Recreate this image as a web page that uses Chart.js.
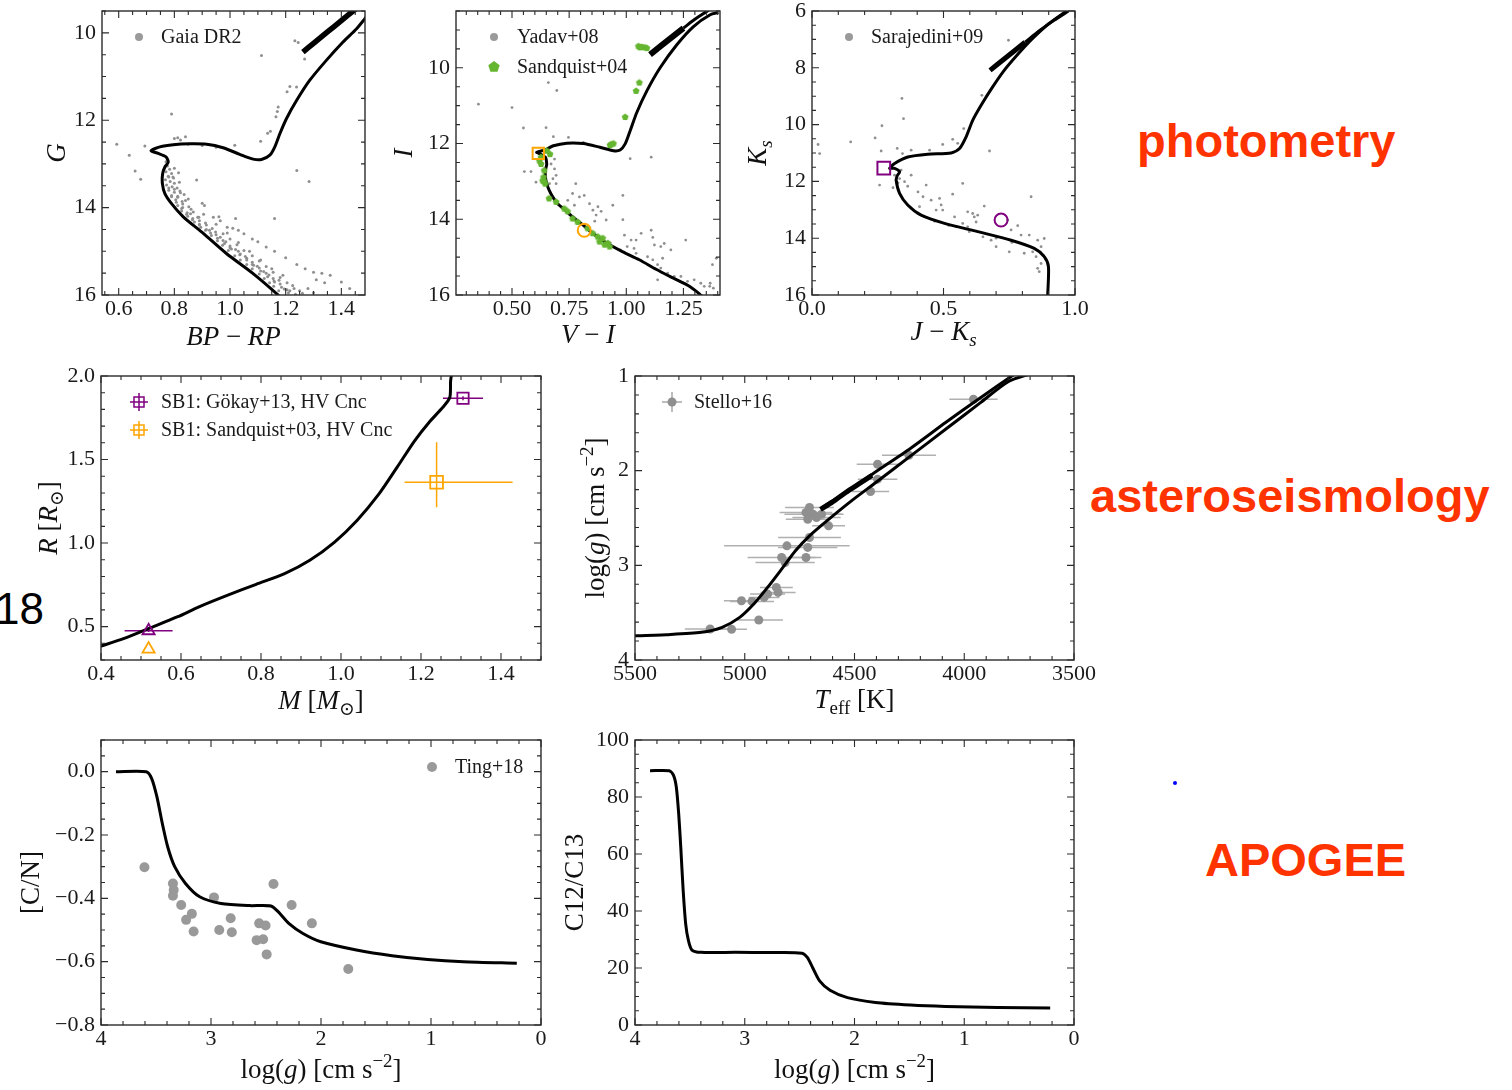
<!DOCTYPE html>
<html>
<head>
<meta charset="utf-8">
<script src="https://cdn.jsdelivr.net/npm/chart.js@4.4.1/dist/chart.umd.min.js"></script>
<style>
  body { margin: 0; background: #fff; width: 1512px; height: 1090px; overflow: hidden; position: relative; }
  canvas { position: absolute; }
  .tag { position: absolute; font: bold 47px "Liberation Sans", Arial, sans-serif; color: #ff3300; line-height: 47px; white-space: nowrap; }
  .num { position: absolute; font: 44px "Liberation Sans", Arial, sans-serif; color: #000; line-height: 44px; }
  .dot { position: absolute; width: 4px; height: 4px; border-radius: 50%; background: #0000ff; }
</style>
</head>
<body>
<div class="tag" style="left:1137px;top:117px">photometry</div>
<div class="tag" style="left:1090px;top:472px">asteroseismology</div>
<div class="tag" style="left:1205px;top:836px">APOGEE</div>
<div class="num" style="left:-5px;top:587px">18</div>
<div class="dot" style="left:1173px;top:781px"></div>
<script>
// ---- Gaia DR2 CMD ----
var gaiaIsoBp = [1.18,1.173,1.083,0.987,0.904,0.832,0.790,0.766,0.757,0.758,0.766,0.778,0.770,0.742,0.716,0.748,0.796,0.856,0.916,0.975,1.035,1.083,1.113,1.143,1.161,1.179,1.203,1.239,1.286,1.346,1.406,1.454,1.484,1.50];
var gaiaIsoG  = [16.06,16.00,15.51,15.05,14.59,14.21,13.91,13.68,13.45,13.22,13.07,12.96,12.84,12.76,12.70,12.61,12.56,12.54,12.55,12.63,12.78,12.89,12.90,12.80,12.61,12.31,11.96,11.55,11.09,10.63,10.21,9.91,9.68,9.55];
var gaiaAgbBp = [1.262,1.300,1.350,1.400,1.450];
var gaiaAgbG  = [10.44,10.24,9.98,9.72,9.46];
var gaiaBp = [
  0.775,0.783,0.770,0.790,0.778,0.795,0.768,0.785,0.800,0.772,
  0.792,0.810,0.780,0.800,0.820,0.790,0.812,0.835,0.805,0.828,
  0.850,0.812,0.830,0.852,0.826,0.846,0.868,0.848,0.866,0.888,
  0.872,0.890,0.912,0.895,0.915,0.936,0.930,0.950,0.975,0.955,
  0.975,1.000,0.980,1.000,1.025,1.005,1.030,1.050,1.035,1.055,
  1.080,1.060,1.080,1.105,1.085,1.105,1.130,1.110,1.130,1.155,
  1.135,1.155,1.180,1.160,1.180,1.205,1.185,1.205,1.230,1.210,
  1.235,1.260,
  0.780,0.780,0.790,0.807,0.826,0.844,0.865,0.890,0.912,0.933,
  0.955,0.973,0.994,1.017,1.037,1.060,1.080,1.105,1.123,1.142,
  1.157,1.175,
  0.800,0.815,0.797,0.818,0.800,0.822,0.812,0.840,0.830,0.860,
  0.858,0.884,0.890,0.915,0.926,0.948,0.965,0.985,1.000,1.020,
  1.037,1.060,1.080,1.098,1.121,1.140,1.158,1.176,1.195,1.215,
  1.250,1.225,1.190,1.150,1.110,1.070,1.030,0.990,0.950,0.905,
  0.593,0.638,0.659,0.679,0.694,0.790,0.800,0.812,0.822,0.840,
  0.880,0.900,0.908,0.960,1.020,1.160,1.240,1.284,1.113,1.233,
  1.245,1.268,1.239,1.215,1.205,1.173,1.170,1.165,1.145,1.135,
  1.110,1.017,0.760,0.770,0.850,0.900,0.950,
  0.940,0.965,0.990,1.010,1.030,1.050,1.080,1.100,1.130,1.160,
  1.200,1.240,1.270,1.300,1.330,1.360,1.310,1.340,1.400,1.430,
  1.280,1.300
];
var gaiaG = [
  13.05,13.12,13.18,13.22,13.28,13.30,13.36,13.40,13.44,13.48,
  13.52,13.55,13.60,13.65,13.62,13.72,13.76,13.70,13.82,13.86,
  13.80,13.95,14.00,13.98,14.08,14.12,14.10,14.20,14.25,14.22,
  14.33,14.38,14.35,14.45,14.50,14.48,14.58,14.62,14.60,14.70,
  14.75,14.72,14.82,14.88,14.85,14.95,15.00,14.98,15.08,15.12,
  15.10,15.20,15.25,15.22,15.32,15.38,15.35,15.45,15.50,15.48,
  15.58,15.62,15.60,15.70,15.75,15.72,15.82,15.88,15.85,15.95,
  15.98,15.96,
  13.30,13.55,13.75,13.88,14.02,14.15,14.28,14.40,14.52,14.64,
  14.76,14.86,14.98,15.10,15.20,15.30,15.40,15.52,15.62,15.72,
  15.80,15.90,
  13.10,13.20,13.32,13.42,13.58,13.66,13.74,13.84,13.92,14.04,
  14.14,14.22,14.30,14.40,14.52,14.56,14.68,14.78,14.92,14.96,
  15.06,15.16,15.30,15.34,15.46,15.54,15.68,15.66,15.86,15.90,
  15.90,15.78,15.55,15.40,15.20,15.00,14.80,14.58,14.38,14.15,
  12.55,12.80,13.16,13.35,12.59,11.86,12.42,12.40,12.45,12.38,
  13.37,13.90,13.95,14.21,14.25,14.25,13.15,13.40,10.52,10.18,
  10.22,10.60,11.24,11.23,11.35,11.70,11.80,11.92,12.25,12.30,
  12.48,12.57,12.80,12.95,12.55,12.58,12.62,
  14.22,14.30,14.45,14.47,14.52,14.60,14.72,14.78,14.90,15.00,
  15.15,15.30,15.40,15.48,15.50,15.55,15.65,15.72,15.70,15.85,
  15.85,15.95
];

// ---- V-I CMD ----
var viIso = [1.330,1.320,1.276,1.204,1.130,1.057,0.985,0.912,0.853,0.810,0.766,0.729,0.700,0.678,0.663,0.652,0.646,0.646,0.652,0.646,0.625,0.608,0.644,0.681,0.739,0.812,0.885,0.944,0.973,0.995,1.017,1.046,1.090,1.148,1.221,1.294,1.367,1.403];
var iIso  = [16.03,15.97,15.77,15.55,15.32,15.07,14.86,14.62,14.37,14.15,13.94,13.74,13.59,13.41,13.24,13.06,12.89,12.71,12.54,12.36,12.28,12.23,12.17,12.06,11.99,12.00,12.10,12.19,12.17,12.01,11.66,11.18,10.61,10.00,9.39,8.91,8.60,8.54];
var viAgb = [1.104,1.150,1.200,1.250];
var iAgb  = [9.65,9.43,9.19,8.95];
var viAgbTop = [1.250,1.300,1.360];
var iAgbTop  = [8.95,8.72,8.48];
var yadavVI = [
  0.353,0.500,0.659,0.696,0.550,0.649,0.681,0.747,0.812,1.109,1.017,
  0.554,0.583,0.605,0.671,0.686,0.693,0.679,0.664,0.693,0.686,
  0.779,0.765,0.795,0.816,0.744,0.773,0.839,0.854,0.876,0.890,
  0.868,0.912,0.862,0.941,0.985,0.985,0.992,1.021,1.043,1.065,
  1.109,1.116,1.123,1.151,1.166,1.195,1.260,1.034,1.004,1.043,
  1.093,1.116,1.137,1.151,1.159,1.181,1.210,1.239,1.268,1.297,
  1.326,1.341,1.377,1.394,1.365,1.137,0.930,0.974,1.381,1.367
];
var yadavI = [
  10.96,11.05,10.39,10.60,11.59,11.58,11.82,11.84,11.97,12.36,12.40,
  12.74,12.74,13.02,12.54,12.67,12.84,12.93,13.06,13.06,12.41,
  13.06,13.32,13.41,13.37,13.50,13.63,13.59,13.76,13.67,13.79,
  13.89,14.02,14.05,13.63,13.37,14.01,14.42,14.55,14.55,14.37,
  14.29,14.48,14.68,14.72,14.64,14.81,14.55,14.77,14.72,14.90,
  14.99,15.07,15.20,15.29,15.03,15.42,15.51,15.51,15.64,15.60,
  15.69,15.77,15.20,15.03,15.77,15.60,14.63,14.81,15.82,15.69
];
var sandVI = [
  1.053,1.068,1.080,1.090,1.060,1.057,1.043,0.995,0.944,0.929,0.935,
  0.627,0.620,0.627,0.641,0.638,0.645,0.662,0.693,0.729,0.743,
  0.765,0.787,0.831,0.853,0.875,0.897,0.919,0.927,0.883,0.905,
  0.652,0.666,0.640,0.634
];
var sandI = [
  9.43,9.45,9.46,9.48,9.46,10.39,10.61,11.30,12.00,12.04,12.02,
  12.36,12.45,12.54,12.71,12.89,13.06,13.45,13.54,13.72,13.79,
  13.98,14.07,14.24,14.37,14.46,14.50,14.63,14.72,14.59,14.67,
  12.19,12.28,13.00,12.98
];
var hvSqVI = [0.615], hvSqI = [12.26];
var hvCircVI = [0.816], hvCircI = [14.29];

// ---- J-Ks CMD ----
var jkIso = [0.896,0.899,0.883,0.845,0.757,0.630,0.504,0.415,0.364,0.333,0.320,0.324,0.333,0.314,0.295,0.314,0.364,0.440,0.529,0.561,0.586,0.611,0.643,0.685,0.730,0.780,0.835,0.900,0.960,0.985];
var ksIso = [16.05,15.00,14.65,14.36,14.07,13.77,13.48,13.19,12.83,12.42,11.96,11.80,11.66,11.54,11.54,11.37,11.14,11.04,11.00,10.84,10.43,9.85,9.32,8.70,8.10,7.55,7.00,6.45,6.05,5.90];
var jkAgb = [0.677,0.720,0.770,0.810];
var ksAgb = [8.09,7.77,7.40,7.10];
var jkAgbTop = [0.810,0.867,0.920,0.975];
var ksAgbTop = [7.10,6.68,6.33,6.00];
var saraJK = [
  0.747,0.646,0.342,0.348,0.023,0.029,0.147,0.240,0.266,0.263,
  0.324,0.344,0.377,0.447,0.497,0.535,0.554,0.577,0.675,0.257,
  0.314,0.333,0.352,0.364,0.327,0.308,0.377,0.339,0.434,0.403,
  0.422,0.409,0.453,0.485,0.491,0.472,0.497,0.535,0.542,0.573,
  0.592,0.611,0.617,0.630,0.624,0.592,0.655,0.573,0.744,0.782,
  0.757,0.833,0.795,0.826,0.858,0.883,0.871,0.839,0.852,0.871,
  0.858,0.864,0.700,0.750,0.807,0.681,0.598,0.548,0.466,0.520,
  0.650,0.700,0.760,0.880,0.890
];
var saraKs = [
  7.03,8.97,9.08,9.79,10.70,11.02,10.61,10.47,10.04,10.93,
  10.84,11.02,10.90,10.90,10.70,10.52,10.66,10.14,10.93,12.13,
  11.78,11.90,12.01,12.17,12.05,12.22,11.78,11.60,12.13,12.37,
  12.54,12.89,12.66,12.60,12.83,13.01,13.01,12.45,13.25,12.07,
  13.07,13.13,13.25,13.19,13.43,13.60,12.87,13.48,13.36,13.56,
  13.71,12.54,13.89,13.89,14.07,14.01,14.30,14.48,14.65,14.89,
  15.06,15.18,14.30,14.48,14.53,14.07,13.77,13.60,13.40,13.55,
  13.95,14.00,14.15,14.60,14.75
];
var hvSqJK = [0.273], hvSqKs = [11.53];
var hvCircJK = [0.719], hvCircKs = [13.36];

// ---- mass-radius ----
var mrMass = [0.38,0.40,0.458,0.520,0.592,0.645,0.717,0.788,0.859,0.922,0.984,1.040,1.095,1.140,1.184,1.220,1.254,1.272,1.274,1.277];
var mrRad  = [0.368,0.383,0.429,0.489,0.559,0.618,0.688,0.753,0.817,0.897,1.006,1.135,1.294,1.453,1.612,1.722,1.811,1.871,1.970,2.02];
var gokayM = [1.305,0.519], gokayR = [1.867,0.475];
var gokayMErr = [0.05,0.06], gokayRErr = [0.012,0.008];
var sandqM = [1.239,0.519], sandqR = [1.364,0.365];
var sandqMLo = [0.08,0], sandqMHi = [0.19,0];
var sandqRLo = [0.15,0], sandqRHi = [0.24,0];

// ---- Teff-logg ----
var rgbTeff = [5560,5500,5357,5198,5103,5023,4959,4896,4832,4769,4705,4626,4514,4403,4244,4085,3926,3800,3690];
var rgbLogg = [3.745,3.743,3.732,3.708,3.655,3.550,3.409,3.233,3.040,2.846,2.688,2.530,2.319,2.125,1.844,1.563,1.281,1.06,0.97];
var agbTeff = [4649,4562,4419,4244,4085,3926,3783,3740];
var agbLogg = [2.389,2.266,2.037,1.763,1.492,1.229,1.0,0.93];
var clumpTeff = [4655,4600,4540,4480,4420];
var clumpLogg = [2.41,2.33,2.23,2.14,2.05];
var stelloTeff = [3958,4252,4395,4395,4427,4705,4721,4689,4673,4713,4650,4618,4705,4808,4713,4832,4816,4721,4856,4848,4896,4967,5015,4912,4936,5158,5060];
var stelloLogg = [1.246,1.837,1.932,2.090,2.220,2.389,2.442,2.460,2.495,2.513,2.460,2.583,2.706,2.794,2.811,2.917,2.970,2.917,3.233,3.286,3.304,3.381,3.374,3.339,3.578,3.673,3.676];
var stelloTeffErr = [110,123,95,90,85,111,120,130,110,100,100,75,143,286,135,155,135,70,75,80,80,100,80,70,110,115,70];
var stelloLoggErr = [0.02,0.02,0.02,0.02,0.02,0.02,0.02,0.02,0.02,0.02,0.02,0.02,0.02,0.02,0.02,0.02,0.02,0.02,0.02,0.02,0.02,0.02,0.02,0.02,0.02,0.02,0.02];

// ---- APOGEE mixing ----
var cnLogg = [3.864,3.589,3.540,3.492,3.443,3.394,3.330,3.232,3.103,2.909,2.650,2.455,2.390,2.293,2.164,2.002,1.678,1.354,1.030,0.706,0.220];
var cnVal  = [0.0,0.0,-0.021,-0.079,-0.163,-0.237,-0.300,-0.353,-0.395,-0.416,-0.423,-0.424,-0.442,-0.479,-0.511,-0.537,-0.563,-0.581,-0.593,-0.600,-0.605];
var tingLogg = [3.605,3.346,3.339,3.346,3.271,3.226,3.174,3.158,2.973,2.925,2.821,2.811,2.585,2.562,2.526,2.504,2.494,2.432,2.267,2.083,1.752];
var tingCN   = [-0.302,-0.353,-0.374,-0.392,-0.421,-0.468,-0.449,-0.505,-0.397,-0.500,-0.463,-0.507,-0.532,-0.479,-0.529,-0.486,-0.577,-0.355,-0.421,-0.479,-0.623];
var ccLogg = [3.863,3.688,3.650,3.624,3.602,3.583,3.561,3.538,3.513,3.481,3.401,3.083,2.764,2.478,2.430,2.382,2.318,2.223,2.064,1.809,1.490,1.172,0.694,0.217];
var ccVal  = [89.2,89.2,87.7,83.6,74.2,62.4,47.2,35.4,29.6,26.3,25.5,25.5,25.4,25.2,23.7,20.2,15.5,12.2,9.6,7.9,7.0,6.5,6.1,6.0];

var SERIF = '"Liberation Serif", "DejaVu Serif", serif';
var GRAY = '#8f8f8f', GREEN = '#64b52f', PURPLE = '#800080', ORANGE = '#ffa500';
var YW = 110, PT = 20, PR = 40, XH = 75;

function pts(xs, ys) { return xs.map(function(v, i) { return {x: v, y: ys[i]}; }); }
function curve(xs, ys, w) {
  return {data: pts(xs, ys), showLine: true, borderColor: '#000', borderWidth: w, pointRadius: 0, tension: 0.25, fill: false};
}
function dots(xs, ys, color, r, style) {
  return {data: pts(xs, ys), showLine: false, pointRadius: r, pointStyle: style || 'circle', backgroundColor: color, borderColor: color, borderWidth: 0};
}
function hollow(xs, ys, color, r, style) {
  return {data: pts(xs, ys), showLine: false, pointRadius: r, pointStyle: style, backgroundColor: 'rgba(0,0,0,0)', borderColor: color, borderWidth: 2};
}
function pentagon(r, color) {
  var c = document.createElement('canvas');
  var s = Math.ceil(2 * r + 2);
  c.width = c.height = s;
  var g = c.getContext('2d');
  g.fillStyle = color;
  g.beginPath();
  for (var k = 0; k < 5; k++) {
    var ang = -Math.PI / 2 + k * 2 * Math.PI / 5;
    g.lineTo(s / 2 + r * Math.cos(ang), s / 2 + r * Math.sin(ang));
  }
  g.closePath();
  g.fill();
  return c;
}
var pentSmall = pentagon(3.6, GREEN), pentBig = pentagon(6, GREEN);

// rich label: italics, subscripts, superscripts, centred on (0,0) baseline
function richText(ctx, parts, size) {
  var items = parts.map(function(pt) {
    var fs = (pt.sub || pt.sup) ? size * 0.7 : size;
    var font = (pt.it ? 'italic ' : '') + fs + 'px ' + SERIF;
    ctx.font = font;
    return {t: pt.t, font: font, w: ctx.measureText(pt.t).width, dy: pt.sub ? size * 0.22 : (pt.sup ? -size * 0.4 : 0)};
  });
  var total = items.reduce(function(s, it) { return s + it.w; }, 0);
  var cx = -total / 2;
  items.forEach(function(it) { ctx.font = it.font; ctx.fillText(it.t, cx, it.dy); cx += it.w; });
}

function drawMarker(ctx, m, x, y) {
  ctx.save();
  if (m.kind === 'dot') {
    ctx.fillStyle = m.color; ctx.beginPath(); ctx.arc(x, y, m.r, 0, 2 * Math.PI); ctx.fill();
  } else if (m.kind === 'pent') {
    ctx.drawImage(pentBig, x - pentBig.width / 2, y - pentBig.height / 2);
  } else if (m.kind === 'sqErr') {
    ctx.strokeStyle = m.color; ctx.lineWidth = 1.5;
    ctx.beginPath(); ctx.moveTo(x - 9, y); ctx.lineTo(x + 9, y); ctx.moveTo(x, y - 9); ctx.lineTo(x, y + 9); ctx.stroke();
    ctx.strokeRect(x - 5, y - 5, 10, 10);
  } else if (m.kind === 'dotErr') {
    ctx.strokeStyle = '#a8a8a8'; ctx.lineWidth = 1.5;
    ctx.beginPath(); ctx.moveTo(x - 10, y); ctx.lineTo(x + 10, y); ctx.moveTo(x, y - 10); ctx.lineTo(x, y + 10); ctx.stroke();
    ctx.fillStyle = GRAY; ctx.beginPath(); ctx.arc(x, y, 4.5, 0, 2 * Math.PI); ctx.fill();
  }
  ctx.restore();
}

function drawTicks(ctx, scale, ax, a, horiz) {
  var lo = Math.min(ax.min, ax.max), hi = Math.max(ax.min, ax.max);
  for (var n = Math.ceil(lo / ax.minor - 1e-6); n * ax.minor <= hi + 1e-9; n++) {
    var v = n * ax.minor;
    var major = ax.major.some(function(m) { return Math.abs(m - v) < ax.minor / 10; });
    var len = major ? 7 : 4;
    var q = scale.getPixelForValue(v);
    ctx.beginPath();
    if (horiz) {
      ctx.moveTo(q, a.bottom); ctx.lineTo(q, a.bottom - len);
      ctx.moveTo(q, a.top); ctx.lineTo(q, a.top + len);
    } else {
      ctx.moveTo(a.left, q); ctx.lineTo(a.left + len, q);
      ctx.moveTo(a.right, q); ctx.lineTo(a.right - len, q);
    }
    ctx.stroke();
  }
}

function panelPlugin(p) {
  return {
    id: 'panelFrame',
    beforeDatasetsDraw: function(chart) {
      if (!p.errors) return;
      var ctx = chart.ctx, a = chart.chartArea, sx = chart.scales.x, sy = chart.scales.y;
      ctx.save();
      ctx.beginPath(); ctx.rect(a.left, a.top, a.width, a.height); ctx.clip();
      p.errors.forEach(function(e) {
        ctx.strokeStyle = e.color; ctx.lineWidth = e.width;
        e.xs.forEach(function(xv, i) {
          var yv = e.ys[i];
          var py = sy.getPixelForValue(yv), px = sx.getPixelForValue(xv);
          ctx.beginPath();
          if (e.xLo[i] || e.xHi[i]) {
            ctx.moveTo(sx.getPixelForValue(xv - e.xLo[i]), py);
            ctx.lineTo(sx.getPixelForValue(xv + e.xHi[i]), py);
          }
          if (e.yLo[i] || e.yHi[i]) {
            ctx.moveTo(px, sy.getPixelForValue(yv - e.yLo[i]));
            ctx.lineTo(px, sy.getPixelForValue(yv + e.yHi[i]));
          }
          ctx.stroke();
        });
      });
      ctx.restore();
    },
    afterDraw: function(chart) {
      var ctx = chart.ctx, a = chart.chartArea;
      ctx.save();
      ctx.strokeStyle = '#2b2b2b'; ctx.lineWidth = 1.4;
      ctx.strokeRect(a.left, a.top, a.width, a.height);
      ctx.lineWidth = 1.1;
      drawTicks(ctx, chart.scales.x, p.x, a, true);
      drawTicks(ctx, chart.scales.y, p.y, a, false);

      ctx.fillStyle = '#111'; ctx.textAlign = 'left'; ctx.textBaseline = 'alphabetic';
      ctx.save();
      ctx.translate((a.left + a.right) / 2, a.bottom + p.xOff);
      richText(ctx, p.xTitle, 27);
      ctx.restore();
      ctx.save();
      ctx.translate(a.left - p.yOff, (a.top + a.bottom) / 2);
      ctx.rotate(-Math.PI / 2);
      richText(ctx, p.yTitle, 27);
      ctx.restore();

      (p.legend || []).forEach(function(item) {
        var mx = (item.right ? a.right : a.left) + item.dx, my = a.top + item.dy;
        drawMarker(ctx, item.marker, mx, my);
        ctx.font = '20px ' + SERIF; ctx.textBaseline = 'middle'; ctx.textAlign = 'left'; ctx.fillStyle = '#1a1a1a';
        ctx.fillText(item.text, mx + item.tx, my + 1);
      });
      ctx.restore();
    }
  };
}

function axisOpts(ax, horiz) {
  return {
    type: 'linear', min: ax.min, max: ax.max, reverse: !!ax.reverse,
    grid: {display: false, drawTicks: false},
    border: {display: false},
    ticks: {
      autoSkip: false, maxRotation: 0, minRotation: 0,
      padding: horiz ? 1 : 6,
      color: '#1a1a1a',
      font: {family: SERIF, size: 22},
      callback: function(v) { return Number(v).toFixed(ax.dec).replace('-', '\u2212'); }
    },
    afterBuildTicks: function(s) { s.ticks = ax.major.map(function(v) { return {value: v}; }); },
    afterFit: function(s) { if (horiz) s.height = XH; else s.width = YW; }
  };
}

function makePanel(p) {
  var L = p.frame[0], T = p.frame[1], R = p.frame[2], B = p.frame[3];
  var W = YW + (R - L) + PR, H = PT + (B - T) + XH;
  var cv = document.createElement('canvas');
  cv.width = W; cv.height = H;
  cv.style.left = (L - YW) + 'px'; cv.style.top = (T - PT) + 'px';
  cv.style.width = W + 'px'; cv.style.height = H + 'px';
  document.body.appendChild(cv);
  new Chart(cv, {
    type: 'scatter',
    data: {datasets: p.datasets},
    options: {
      responsive: false, animation: false, devicePixelRatio: 1, events: [],
      layout: {padding: {left: 0, top: PT, right: PR, bottom: 0}},
      elements: {line: {capBezierPoints: false}},
      plugins: {legend: {display: false}, tooltip: {enabled: false}},
      scales: {x: axisOpts(p.x, true), y: axisOpts(p.y, false)}
    },
    plugins: [panelPlugin(p)]
  });
}

var loggTitle = [{t: 'log('}, {t: 'g', it: 1}, {t: ') [cm s'}, {t: '\u22122', sup: 1}, {t: ']'}];

// G vs BP-RP
makePanel({
  frame: [102, 11, 365, 295],
  x: {min: 0.54, max: 1.485, major: [0.6, 0.8, 1.0, 1.2, 1.4], minor: 0.05, dec: 1},
  y: {min: 9.5, max: 16, reverse: true, major: [10, 12, 14, 16], minor: 0.5, dec: 0},
  xTitle: [{t: 'BP', it: 1}, {t: ' \u2212 '}, {t: 'RP', it: 1}], xOff: 50,
  yTitle: [{t: 'G', it: 1}], yOff: 37,
  legend: [{marker: {kind: 'dot', color: '#9a9a9a', r: 4}, text: 'Gaia DR2', dx: 37, dy: 26, tx: 22}],
  datasets: [curve(gaiaIsoBp, gaiaIsoG, 3), curve(gaiaAgbBp, gaiaAgbG, 5.5), dots(gaiaBp, gaiaG, GRAY, 1.5)]
});

// I vs V-I
makePanel({
  frame: [456, 11, 720, 295],
  x: {min: 0.255, max: 1.41, major: [0.5, 0.75, 1.0, 1.25], minor: 0.05, dec: 2},
  y: {min: 8.5, max: 16, reverse: true, major: [10, 12, 14, 16], minor: 0.5, dec: 0},
  xTitle: [{t: 'V', it: 1}, {t: ' \u2212 '}, {t: 'I', it: 1}], xOff: 48,
  yTitle: [{t: 'I', it: 1}], yOff: 44,
  legend: [
    {marker: {kind: 'dot', color: '#9a9a9a', r: 4}, text: 'Yadav+08', dx: 38, dy: 26, tx: 23},
    {marker: {kind: 'pent'}, text: 'Sandquist+04', dx: 38, dy: 56, tx: 23}
  ],
  datasets: [
    hollow(hvSqVI, hvSqI, ORANGE, 8, 'rect'),
    hollow(hvCircVI, hvCircI, ORANGE, 6.5, 'circle'),
    dots(sandVI, sandI, GREEN, 3.6, pentSmall),
    curve(viIso, iIso, 3), curve(viAgb, iAgb, 6), curve(viAgbTop, iAgbTop, 3),
    dots(yadavVI, yadavI, GRAY, 1.4)
  ]
});

// Ks vs J-Ks
makePanel({
  frame: [812, 11, 1075, 295],
  x: {min: 0, max: 1, major: [0, 0.5, 1.0], minor: 0.1, dec: 1},
  y: {min: 6, max: 16, reverse: true, major: [6, 8, 10, 12, 14, 16], minor: 0.5, dec: 0},
  xTitle: [{t: 'J', it: 1}, {t: ' \u2212 '}, {t: 'K', it: 1}, {t: 's', it: 1, sub: 1}], xOff: 45,
  yTitle: [{t: 'K', it: 1}, {t: 's', it: 1, sub: 1}], yOff: 46,
  legend: [{marker: {kind: 'dot', color: '#9a9a9a', r: 4}, text: 'Sarajedini+09', dx: 37, dy: 26, tx: 22}],
  datasets: [
    hollow(hvSqJK, hvSqKs, PURPLE, 9, 'rect'),
    hollow(hvCircJK, hvCircKs, PURPLE, 6.5, 'circle'),
    curve(jkIso, ksIso, 3), curve(jkAgb, ksAgb, 5), curve(jkAgbTop, ksAgbTop, 3),
    dots(saraJK, saraKs, GRAY, 1.4)
  ]
});

// R vs M
makePanel({
  frame: [101, 376, 541, 660],
  x: {min: 0.4, max: 1.5, major: [0.4, 0.6, 0.8, 1.0, 1.2, 1.4], minor: 0.05, dec: 1},
  y: {min: 0.3, max: 2.0, major: [0.5, 1.0, 1.5, 2.0], minor: 0.1, dec: 1},
  xTitle: [{t: 'M', it: 1}, {t: ' ['}, {t: 'M', it: 1}, {t: '\u2299', sub: 1}, {t: ']'}], xOff: 49,
  yTitle: [{t: 'R', it: 1}, {t: ' ['}, {t: 'R', it: 1}, {t: '\u2299', sub: 1}, {t: ']'}], yOff: 44,
  legend: [
    {marker: {kind: 'sqErr', color: PURPLE}, text: 'SB1: G\u00f6kay+13, HV Cnc', dx: 38, dy: 26, tx: 22},
    {marker: {kind: 'sqErr', color: ORANGE}, text: 'SB1: Sandquist+03, HV Cnc', dx: 38, dy: 54, tx: 22}
  ],
  errors: [
    {xs: gokayM, ys: gokayR, xLo: gokayMErr, xHi: gokayMErr, yLo: gokayRErr, yHi: gokayRErr, color: PURPLE, width: 1.5},
    {xs: sandqM, ys: sandqR, xLo: sandqMLo, xHi: sandqMHi, yLo: sandqRLo, yHi: sandqRHi, color: ORANGE, width: 1.5}
  ],
  datasets: [
    {data: pts(gokayM, gokayR), showLine: false, pointStyle: ['rect', 'triangle'], pointRadius: [8, 7], backgroundColor: 'rgba(0,0,0,0)', borderColor: PURPLE, borderWidth: 1.8},
    {data: pts(sandqM, sandqR), showLine: false, pointStyle: ['rect', 'triangle'], pointRadius: [9, 7], backgroundColor: 'rgba(0,0,0,0)', borderColor: ORANGE, borderWidth: 1.8},
    curve(mrMass, mrRad, 3)
  ]
});

// logg vs Teff
makePanel({
  frame: [635, 376, 1074, 660],
  x: {min: 3500, max: 5500, reverse: true, major: [3500, 4000, 4500, 5000, 5500], minor: 100, dec: 0},
  y: {min: 1, max: 4, reverse: true, major: [1, 2, 3, 4], minor: 0.2, dec: 0},
  xTitle: [{t: 'T', it: 1}, {t: 'eff', sub: 1}, {t: ' [K]'}], xOff: 48,
  yTitle: loggTitle, yOff: 31,
  legend: [{marker: {kind: 'dotErr'}, text: 'Stello+16', dx: 37, dy: 26, tx: 22}],
  errors: [
    {xs: stelloTeff, ys: stelloLogg, xLo: stelloTeffErr, xHi: stelloTeffErr, yLo: stelloLoggErr, yHi: stelloLoggErr, color: '#b0b0b0', width: 1.5}
  ],
  datasets: [
    curve(rgbTeff, rgbLogg, 3), curve(agbTeff, agbLogg, 3), curve(clumpTeff, clumpLogg, 5),
    dots(stelloTeff, stelloLogg, GRAY, 4.5)
  ]
});

// [C/N] vs logg
makePanel({
  frame: [101, 740, 541, 1025],
  x: {min: 0, max: 4, reverse: true, major: [0, 1, 2, 3, 4], minor: 0.2, dec: 0},
  y: {min: -0.8, max: 0.1, major: [-0.8, -0.6, -0.4, -0.2, 0.0], minor: 0.05, dec: 1},
  xTitle: loggTitle, xOff: 53,
  yTitle: [{t: '[C/N]'}], yOff: 62,
  legend: [{marker: {kind: 'dot', color: '#9a9a9a', r: 5}, text: 'Ting+18', dx: -109, dy: 27, tx: 23, right: true}],
  datasets: [curve(cnLogg, cnVal, 3), dots(tingLogg, tingCN, '#999999', 5)]
});

// C12/C13 vs logg
makePanel({
  frame: [635, 740, 1074, 1025],
  x: {min: 0, max: 4, reverse: true, major: [0, 1, 2, 3, 4], minor: 0.2, dec: 0},
  y: {min: 0, max: 100, major: [0, 20, 40, 60, 80, 100], minor: 5, dec: 0},
  xTitle: loggTitle, xOff: 53,
  yTitle: [{t: 'C12/C13'}], yOff: 52,
  datasets: [curve(ccLogg, ccVal, 3)]
});
</script>
</body>
</html>
